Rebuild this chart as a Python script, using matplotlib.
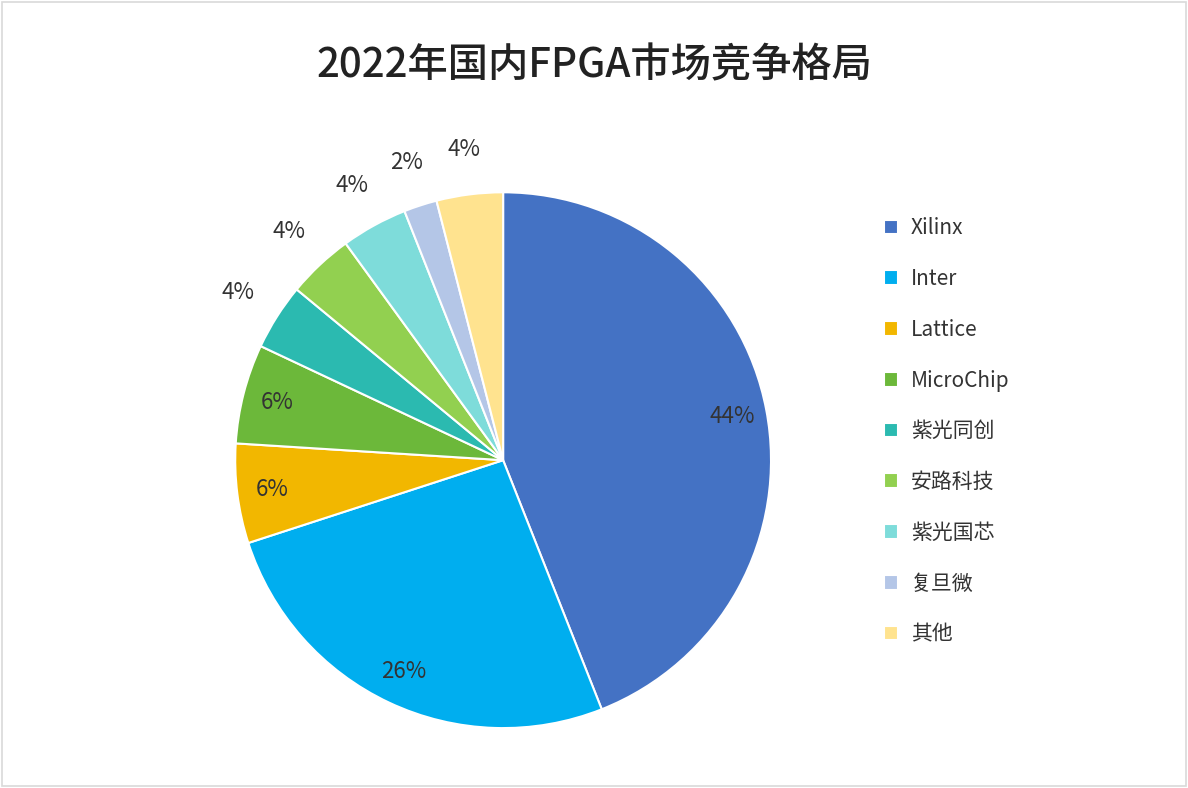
import matplotlib
matplotlib.use("Agg")
import matplotlib.pyplot as plt
from matplotlib import font_manager as fm
import numpy as np
from matplotlib.patches import Rectangle

for f in fm.findSystemFonts():
    if "CJK" in f and "Serif" not in f:
        try:
            fm.fontManager.addfont(f)
        except Exception:
            pass
names = sorted({f.name for f in fm.fontManager.ttflist if "CJK" in f.name and "Sans" in f.name})
if "Noto Sans CJK SC" in names:
    cjk = "Noto Sans CJK SC"
elif names:
    cjk = names[0]
else:
    cjk = "DejaVu Sans"
plt.rcParams["font.family"] = [cjk, "DejaVu Sans"]

categories = ["Xilinx", "Inter", "Lattice", "MicroChip", "紫光同创", "安路科技", "紫光国芯", "复旦微", "其他"]
shares = [44, 26, 6, 6, 4, 4, 4, 2, 4]
colors = ["#4472C4", "#00AEEF", "#F2B700", "#6CB83A", "#2BBAB0", "#92D050", "#7EDCDA", "#B4C6E7", "#FFE38F"]
title = "2022年国内FPGA市场竞争格局"

fig = plt.figure(figsize=(11.88, 7.88), dpi=100)
fig.patches.append(Rectangle((0.002, 0.002), 0.996, 0.996, transform=fig.transFigure,
                             fill=False, edgecolor="#D9D9D9", linewidth=1.2))
ax = fig.add_axes([0.198, 0.076, 0.451, 0.680])
wedges, texts, autotexts = ax.pie(shares, colors=colors, startangle=90, counterclock=False,
                                  autopct="%d%%", pctdistance=0.87,
                                  wedgeprops=dict(edgecolor="white", linewidth=1.5),
                                  textprops=dict(fontsize=16, color="#333333"))
for i, (w, t) in enumerate(zip(wedges, autotexts)):
    if shares[i] < 6:
        ang = np.deg2rad((w.theta1 + w.theta2) / 2)
        t.set_position((1.17 * np.cos(ang), 1.17 * np.sin(ang)))
ax.set_aspect("equal")
ax.set_xlim(-1, 1)
ax.set_ylim(-1, 1)

fig.text(0.5, 0.917, title, ha="center", va="center", fontsize=29, fontweight="medium", color="#222222")

leg = fig.legend(wedges, categories, loc="upper left", bbox_to_anchor=(0.728, 0.748),
                 frameon=False, fontsize=15, handlelength=0.7, handleheight=0.7,
                 handletextpad=0.6, labelspacing=1.38, labelcolor="#333333")
fig.savefig("out.png", dpi=100)
